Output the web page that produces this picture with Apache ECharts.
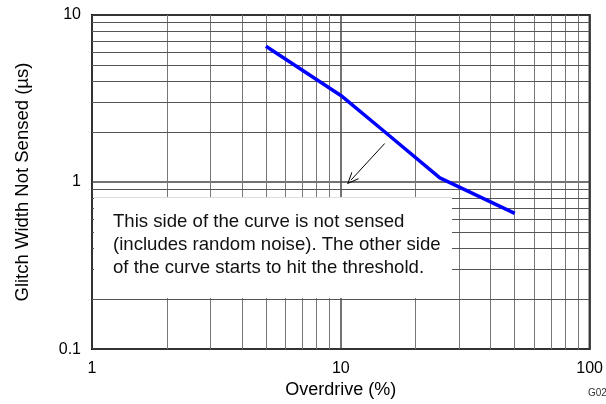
<!DOCTYPE html>
<html>
<head>
<meta charset="utf-8">
<script src="https://cdn.jsdelivr.net/npm/echarts@6/dist/echarts.min.js"></script>
<style>
  html, body { margin: 0; padding: 0; background: #fff; }
  #chart { width: 606px; height: 404px; }
</style>
</head>
<body>
<div id="chart"></div>
<script>
// curve
var overdrive = [5, 10, 15, 25, 50];
var glitchWidth = [6.5, 3.3, 2.0, 1.06, 0.65];

// minor grid lines (log decades)
var xMinorGrid = [2, 3, 4, 5, 6, 7, 8, 9, 20, 30, 40, 50, 60, 70, 80, 90];
var yMinorGrid = [0.2, 0.3, 0.4, 0.5, 0.6, 0.7, 0.8, 0.9, 2, 3, 4, 5, 6, 7, 8, 9];

// arrow from / to (data coords)
var arrowFrom = [15, 1.7];
var arrowTo = [11, 1.03];

var noteLines = [
    'This side of the curve is not sensed',
    '(includes random noise). The other side',
    'of the curve starts to hit the threshold.'
];

var font = 'Liberation Sans, Arial, sans-serif';

var chart = echarts.init(document.getElementById('chart'));

chart.setOption({
    animation: false,
    backgroundColor: '#fff',
    textStyle: { fontFamily: font },
    grid: {
        left: 92, right: 16, top: 15, bottom: 53,
        show: true,
        borderColor: '#000',
        borderWidth: 2
    },
    xAxis: {
        type: 'log',
        logBase: 10,
        min: 1,
        max: 100,
        name: 'Overdrive (%)',
        nameLocation: 'middle',
        nameGap: 28,
        nameTextStyle: { fontSize: 18, color: '#000', fontFamily: font },
        axisLine: { show: false },
        axisTick: { show: false },
        axisLabel: { fontSize: 16, color: '#000', margin: 11, fontFamily: font },
        splitLine: { show: true, lineStyle: { color: '#444', width: 1.5 } }
    },
    yAxis: {
        type: 'log',
        logBase: 10,
        min: 0.1,
        max: 10,
        name: 'Glitch Width Not Sensed (µs)',
        nameLocation: 'middle',
        nameGap: 60,
        nameTextStyle: { fontSize: 18.5, color: '#000', fontFamily: font },
        axisLine: { show: false },
        axisTick: { show: false },
        axisLabel: { fontSize: 16, color: '#000', margin: 11, fontFamily: font },
        splitLine: { show: true, lineStyle: { color: '#444', width: 1.5 } }
    },
    graphic: [
        {
            type: 'rect',
            z: 100,
            shape: { x: 94, y: 197, width: 358, height: 101 },
            style: { fill: '#fff' }
        },
        {
            type: 'line',
            z: 101,
            shape: { x1: 94, y1: 197.5, x2: 452, y2: 197.5 },
            style: { stroke: '#ddd', lineWidth: 1 }
        },
        {
            type: 'text',
            z: 101,
            x: 113,
            y: 210,
            style: {
                text: noteLines.join('\n'),
                font: '18.6px ' + font,
                fill: '#111',
                lineHeight: 23
            }
        },
        {
            type: 'text',
            z: 101,
            x: 588,
            y: 393,
            style: {
                text: 'G020',
                font: '10px ' + font,
                fill: '#333',
                verticalAlign: 'middle'
            }
        }
    ],
    series: [
        {
            // minor grid lines
            type: 'line',
            data: [],
            z: 1,
            silent: true,
            markLine: {
                silent: true,
                symbol: 'none',
                label: { show: false },
                lineStyle: { type: 'solid', color: '#777', width: 1 },
                data: xMinorGrid.map(function(v) { return { xAxis: v }; })
                    .concat(yMinorGrid.map(function(v) {
                        return { yAxis: v, lineStyle: { color: '#555', width: 1 } };
                    }))
            }
        },
        {
            // arrow
            type: 'line',
            data: [],
            z: 3,
            silent: true,
            markLine: {
                silent: true,
                symbol: ['none', 'path://M0,0 L-6,12 L-4.8,12 L0,2.4 L4.8,12 L6,12 Z'],
                symbolSize: [10, 12],
                label: { show: false },
                lineStyle: { type: 'solid', color: '#000', width: 1 },
                data: [[
                    { coord: arrowFrom },
                    { coord: arrowTo }
                ]]
            }
        },
        {
            name: 'Glitch width',
            type: 'line',
            z: 5,
            symbol: 'none',
            lineStyle: { color: '#0000ff', width: 3.5 },
            data: overdrive.map(function(x, i) { return [x, glitchWidth[i]]; })
        }
    ]
});
</script>
</body>
</html>
